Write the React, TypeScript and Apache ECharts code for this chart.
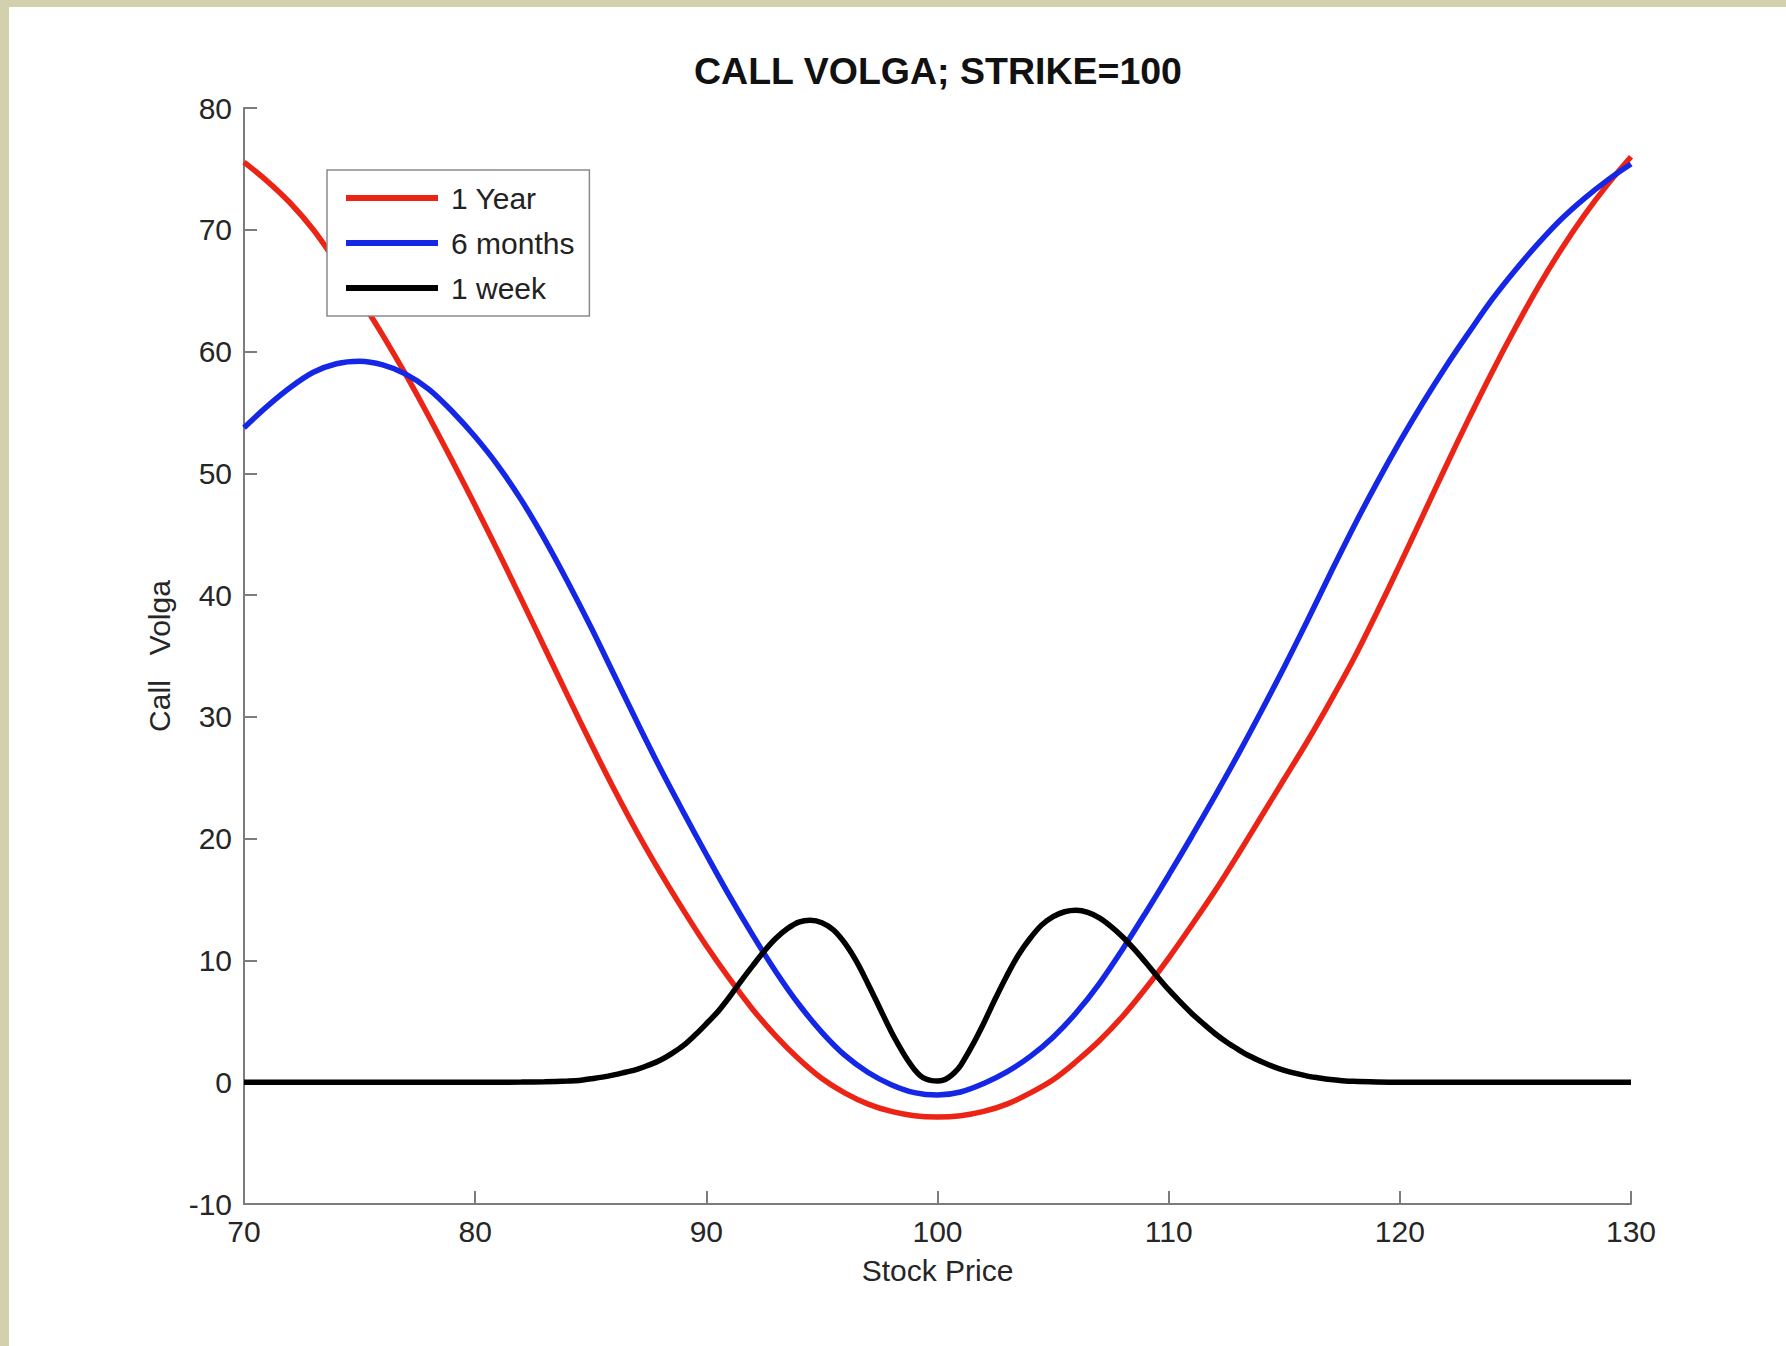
import React, { useEffect, useRef } from "react";
import * as echarts from "echarts";

// Stock prices for the 1 Year and 6 months curves (one per unit)
const stockPrices = [
  70, 71, 72, 73, 74, 75, 76, 77, 78, 79, 80, 81, 82, 83, 84, 85, 86, 87, 88, 89, 90,
  91, 92, 93, 94, 95, 96, 97, 98, 99, 100, 101, 102, 103, 104, 105, 106, 107, 108, 109, 110,
  111, 112, 113, 114, 115, 116, 117, 118, 119, 120, 121, 122, 123, 124, 125, 126, 127, 128, 129, 130,
];

const oneYear = [
  75.55, 74.0, 72.2, 70.0, 67.3, 64.4, 61.35, 58.1, 54.65, 51.05, 47.35,
  43.55, 39.65, 35.7, 31.75, 27.85, 24.1, 20.55, 17.25, 14.15, 11.2,
  8.5, 6.0, 3.8, 1.9, 0.3, -0.9, -1.8, -2.4, -2.75, -2.85,
  -2.75, -2.4, -1.8, -0.9, 0.2, 1.7, 3.4, 5.4, 7.7, 10.2,
  12.9, 15.7, 18.7, 21.8, 24.9, 28.0, 31.3, 34.75, 38.55, 42.5,
  46.55, 50.6, 54.55, 58.35, 61.95, 65.35, 68.45, 71.25, 73.75, 76.0,
];

const sixMonths = [
  53.75, 55.5, 57.05, 58.3, 59.0, 59.2, 58.9, 58.15, 56.9, 55.1, 53.0,
  50.6, 47.8, 44.6, 41.1, 37.4, 33.5, 29.6, 25.8, 22.2, 18.7,
  15.3, 12.1, 9.1, 6.4, 4.1, 2.2, 0.8, -0.2, -0.85, -1.05,
  -0.8, -0.1, 0.85, 2.1, 3.7, 5.7, 8.1, 10.9, 13.9, 17.0,
  20.2, 23.5, 26.9, 30.45, 34.1, 37.9, 41.8, 45.6, 49.2, 52.6,
  55.8, 58.8, 61.6, 64.3, 66.7, 68.9, 70.9, 72.6, 74.1, 75.4,
];

// The 1 week curve is sampled every half unit around the strike,
// and every quarter unit across the dip at the strike itself
const weekPrices = [
  70, 75, 80, 82, 83, 84, 84.5, 85, 85.5, 86, 86.5, 87, 87.5, 88, 88.5, 89, 89.5, 90,
  90.5, 91, 91.5, 92, 92.5, 93, 93.5, 94, 94.5, 95, 95.5, 96, 96.5, 97, 97.5, 98, 98.5,
  98.75, 99, 99.25, 99.5, 99.75, 100, 100.25, 100.5, 100.75, 101,
  101.5, 102, 102.5, 103, 103.5, 104, 104.5, 105, 105.5, 106, 106.5, 107, 107.5, 108,
  108.5, 109, 109.5, 110, 110.5, 111, 111.5, 112, 112.5, 113, 113.5, 114, 114.5, 115, 115.5, 116,
  116.5, 117, 117.5, 118, 119, 120, 122, 125, 130,
];

const oneWeek = [
  0, 0, 0, 0.01, 0.04, 0.1, 0.15, 0.28, 0.42, 0.6, 0.82, 1.05, 1.4, 1.8, 2.35, 3.0, 3.85, 4.8,
  5.8, 7.0, 8.3, 9.55, 10.75, 11.8, 12.6, 13.15, 13.3, 13.1, 12.5, 11.4, 9.9, 8.05, 6.1, 4.15, 2.45,
  1.7, 1.05, 0.55, 0.26, 0.13, 0.1, 0.17, 0.42, 0.82, 1.38,
  3.0, 4.85, 6.85, 8.75, 10.45, 11.8, 12.9, 13.6, 14.0, 14.12, 13.95, 13.5, 12.8, 11.95,
  10.95, 9.85, 8.7, 7.6, 6.6, 5.65, 4.8, 4.0, 3.3, 2.7, 2.15, 1.7, 1.3, 0.98, 0.72, 0.5,
  0.35, 0.22, 0.13, 0.07, 0.02, 0, 0, 0, 0,
];

const seriesNames = ["1 Year", "6 months", "1 week"];
const seriesColors = ["#ec2416", "#1426e6", "#000000"];

const FONT = "'Liberation Sans', Arial, Helvetica, sans-serif";

function pairs(xs: number[], ys: number[]) {
  return xs.map((x, i) => [x, ys[i]]);
}

export default function App() {
  const ref = useRef<HTMLDivElement>(null);

  useEffect(() => {
    if (!ref.current) return;
    const chart = echarts.init(ref.current, undefined, { renderer: "svg" });

    const axisGray = "#7c7c7c";
    const labelColor = "#262626";

    const lineSeries = (name: string, color: string, data: number[][]) => ({
      name,
      type: "line",
      data,
      smooth: 0.35,
      symbol: "none",
      showSymbol: false,
      lineStyle: { color, width: 5.5 },
      itemStyle: { color },
    });

    chart.setOption({
      animation: false,
      backgroundColor: "#ffffff",
      textStyle: { fontFamily: FONT },
      title: {
        text: "CALL VOLGA; STRIKE=100",
        left: 933,
        top: 47,
        textAlign: "center",
        textStyle: { fontFamily: FONT, fontSize: 37.5, fontWeight: "bold", color: "#111" },
      },
      graphic: [
        { type: "rect", shape: { x: 0, y: 0, width: 1786, height: 7 }, style: { fill: "#d3d0ae" }, silent: true },
        { type: "rect", shape: { x: 0, y: 0, width: 9, height: 1346 }, style: { fill: "#d3d0ae" }, silent: true },
      ],
      grid: { left: 244, right: 155, top: 108, bottom: 142, containLabel: false },
      legend: {
        data: seriesNames,
        orient: "vertical",
        left: 327,
        top: 170,
        icon: "rect",
        itemWidth: 92,
        itemHeight: 6,
        itemGap: 15,
        padding: [13, 15, 13, 19],
        backgroundColor: "#ffffff",
        borderColor: "#8a8a8a",
        borderWidth: 1.5,
        borderRadius: 0,
        textStyle: { fontFamily: FONT, fontSize: 30, color: "#222", padding: [0, 0, 0, 8] },
      },
      xAxis: {
        type: "value",
        min: 70,
        max: 130,
        interval: 10,
        name: "Stock Price",
        nameLocation: "middle",
        nameGap: 51,
        nameTextStyle: { fontFamily: FONT, fontSize: 30, color: labelColor },
        axisLine: { show: true, onZero: false, lineStyle: { color: axisGray, width: 2 } },
        axisTick: { show: true, inside: true, length: 13, lineStyle: { color: axisGray, width: 2 } },
        axisLabel: { margin: 12, fontFamily: FONT, fontSize: 30, color: labelColor },
        splitLine: { show: false },
      },
      yAxis: {
        type: "value",
        min: -10,
        max: 80,
        interval: 10,
        name: "Call   Volga",
        nameLocation: "middle",
        nameGap: 70,
        nameTextStyle: { fontFamily: FONT, fontSize: 30, color: labelColor },
        axisLine: { show: true, onZero: false, lineStyle: { color: axisGray, width: 2 } },
        axisTick: { show: true, inside: true, length: 13, lineStyle: { color: axisGray, width: 2 } },
        axisLabel: { margin: 12, fontFamily: FONT, fontSize: 30, color: labelColor },
        splitLine: { show: false },
      },
      series: [
        lineSeries(seriesNames[0], seriesColors[0], pairs(stockPrices, oneYear)),
        lineSeries(seriesNames[1], seriesColors[1], pairs(stockPrices, sixMonths)),
        lineSeries(seriesNames[2], seriesColors[2], pairs(weekPrices, oneWeek)),
      ],
    });

    return () => chart.dispose();
  }, []);

  return (
    <div
      ref={ref}
      style={{ position: "absolute", left: 0, top: 0, width: 1786, height: 1346 }}
    />
  );
}
